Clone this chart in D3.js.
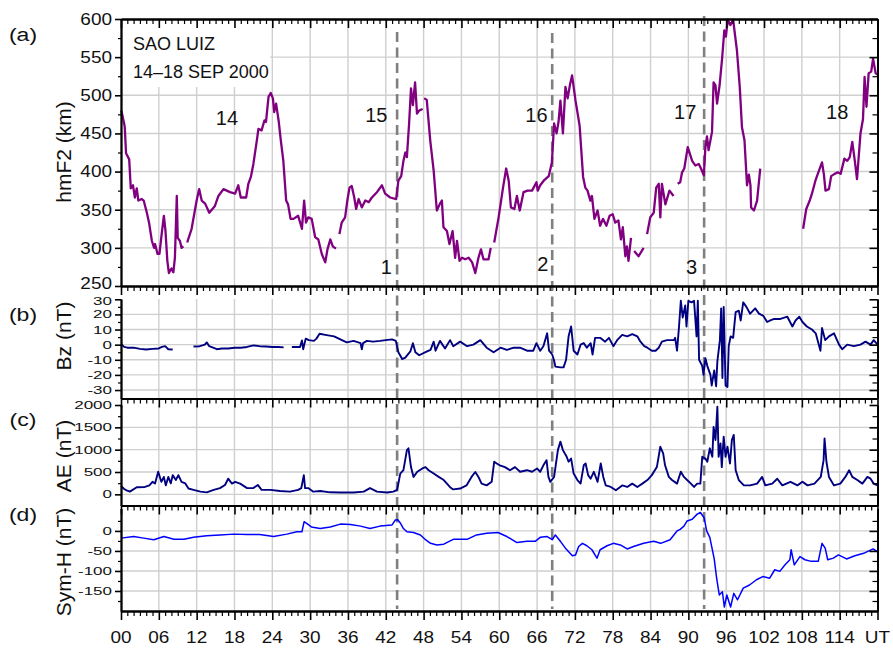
<!DOCTYPE html>
<html>
<head>
<meta charset="utf-8">
<title>Sao Luiz hmF2, Bz, AE, Sym-H</title>
<script src="https://cdn.jsdelivr.net/npm/d3@7"></script>
<style>
  body { margin: 0; background: #fff; }
  svg { font-family: "Liberation Sans", Arial, sans-serif; }
</style>
</head>
<body>
<div id="chart"></div>
<script>
// ---- data (hours since 00 UT 14 Sep 2000, value) ; null = data gap
var hmf2 = [
  [0.0,480],[0.1,478],[0.5,463],[0.6,458],[0.8,424],[1.3,416],[1.55,378],[1.9,382],[2.2,366],[2.5,378],[2.75,362],[3.3,364],[3.6,362],[4.1,346],[4.45,333],[4.9,309],[5.25,300],[5.4,305],[5.8,292],[6.1,292],[6.45,318],[6.8,342],[7.05,323],[7.35,283],[7.6,267],[8.0,273],[8.3,268],[8.55,287],[8.85,368],[9.0,313],[9.35,309],[9.6,300],[9.9,302],
  null,
  [10.5,307],[11.2,325],[12.0,362],[12.4,377],[12.8,362],[13.35,358],[14.0,346],[14.9,355],[15.45,368],[16.25,377],[17.3,373],[18.1,371],[18.6,382],[19.0,366],[19.85,366],[20.2,384],[20.6,393],[21.0,410],[21.55,441],[21.8,456],[22.3,454],[22.75,467],[23.0,465],[23.4,498],[23.75,503],[24.1,496],[24.3,478],[24.6,489],[25.0,467],[25.35,441],[25.75,414],[26.2,362],[26.5,357],[26.9,338],[27.35,338],[28.1,342],[28.7,325],[29.05,362],[29.35,333],[29.7,340],[30.25,338],[30.8,314],[31.3,311],[31.85,292],[32.4,281],[32.75,298],[33.2,311],[33.6,302],[34.1,299],
  null,
  [34.65,318],[35.0,333],[35.55,340],[35.9,362],[36.25,379],[36.6,381],[37.0,366],[37.3,351],[37.7,364],[38.2,353],[38.75,362],[39.3,360],[39.8,366],[40.6,373],[41.4,382],[41.9,371],[42.7,366],[43.65,364],[44.0,388],[44.45,394],[44.8,414],[45.1,425],[45.35,419],[45.7,463],[46.0,509],[46.3,487],[46.65,517],[46.95,476],[47.3,480],[47.85,482],
  null,
  [48.1,496],[48.5,494],[49.05,441],[49.6,401],[50.1,349],[50.6,358],[50.9,362],[51.15,327],[51.7,322],[52.1,305],[52.6,322],[53.0,287],[53.3,309],[53.7,283],[54.1,287],[54.6,285],[55.15,287],[55.7,281],[56.2,267],[56.7,287],[57.1,298],[57.5,285],[58.3,285],[58.65,300],
  null,
  [59.2,307],[59.9,340],[60.6,379],[61.1,404],[61.5,388],[61.85,353],[62.4,351],[62.8,368],[63.25,349],[63.85,373],[64.5,375],[65.2,375],[65.9,386],[66.1,375],[66.5,382],[67.05,388],[67.85,394],[68.35,412],[68.7,463],[69.1,450],[69.4,465],[69.7,493],[70.1,450],[70.5,511],[70.85,496],[71.2,513],[71.55,526],[72.1,493],[72.75,460],[73.3,393],[73.65,379],[74.0,375],[74.45,362],[74.7,368],[75.1,338],[75.6,349],[76.0,329],[76.45,338],[77.0,329],[77.5,342],[78.0,344],[78.4,333],[78.9,336],[79.3,311],[79.6,327],[80.0,289],[80.25,302],[80.5,283],[80.9,313],
  null,
  [81.4,296],[82.1,289],[82.9,300],
  null,
  [83.45,318],[83.95,340],[84.5,346],[84.9,379],[85.3,384],[85.55,340],[85.8,384],[86.35,357],[87.0,375],[87.65,368],
  null,
  [88.3,384],[88.7,386],[89.0,399],[89.35,404],[89.9,432],[90.6,414],[91.1,408],[91.65,410],[92.0,404],[92.45,395],[92.7,432],[92.95,446],[93.2,428],[93.75,452],[94.0,517],[94.3,513],[94.55,489],[94.95,513],[95.35,548],[95.7,585],[95.95,577],[96.25,599],[96.65,592],[97.1,599],[97.7,559],[98.15,511],[98.5,458],[98.9,441],[99.3,382],[99.6,396],[99.85,382],[99.95,353],[100.4,349],[100.9,362],[101.4,404],
  null,
  [108.2,325],[108.7,351],[109.25,362],[109.6,371],[110.15,388],[110.7,401],[111.2,412],[111.5,396],[111.75,375],[112.3,377],[112.65,394],[113.2,397],[113.7,399],[114.15,397],[114.75,417],[115.2,414],[115.6,419],[116.0,439],[116.4,414],[116.75,390],[117.3,450],[117.7,469],[117.95,524],[118.25,485],[118.6,529],[119.0,531],[119.3,548],[119.7,529],[120,527]
];

var bz = [
  [0,0.5],[0.5,-1.5],[1,-2],[2,-2],[3,-2.8],[4,-3.2],[5,-2.8],[6,-2.5],[6.5,-1.5],[7,-1],[7.5,-3],[8.2,-3.2],
  null,
  [11.5,-1.2],[12.5,-1],[13.3,0],[13.6,1.5],[14,-1],[15.2,-3],[16,-2.5],[17,-2.5],[18,-2],[19,-2],[20,-1.5],[21,-0.5],[22,-1],[23,-1.2],[24,-1.5],[25,-1.5],[25.8,-1.8],
  null,
  [27.1,-1.5],[28,-1.5],[28.4,-1.5],[28.7,2.8],[28.9,-3],[29.3,4],[29.8,3],[30.6,2.5],[31,4],[31.5,7.2],[32.4,6.5],[33.1,6],[33.8,5.5],[34.8,3.5],[35.8,1.5],[36.9,2.5],[38,1],[38.2,-3],[38.4,1],[39,2.5],[40,2],[41.1,2.5],[42,3],[43,3.5],[43.6,2.5],[44.0,-5],[44.6,-9.5],[45.1,-8.5],[45.9,-4.5],[46.3,1],[46.7,-5],[47.3,-7],[48.3,-5],[49.1,-3.5],[49.6,2],[49.9,-4],[50.6,2.5],[51.4,-2.5],[52.2,3],[52.7,-1],[53.8,2],[54.9,-1],[55.9,0],[57.0,3],[58.0,-2],[59.1,-5],[60.2,-2],[61.2,-3.5],[62.3,-2],[63.3,-2],[64.4,-4],[65.4,-4],[65.9,1],[66.5,-4],[67.0,-1],[67.6,7.5],[67.9,-4],[68.4,-6.5],[68.7,-10.5],[68.9,-14.5],[69.7,-15],[70.2,-15],[70.6,-10],[71.0,5.5],[71.4,12],[71.8,-4],[72.4,-6.5],[72.9,0],[73.4,1],[73.9,-2],[74.5,1],[74.8,-6.5],[75.2,4.5],[76.0,4.5],[76.8,2],[77.4,4.5],[78.1,-1],[78.7,3],[79.5,6.5],[80.3,5.5],[81.1,7],[81.9,5.5],[82.4,2],[83.0,-1],[83.5,-2],[84.2,-4],[84.8,-4],[85.3,-2],[85.8,2],[86.6,3],[87.7,3],[87.9,4.5],[88.2,-4],[88.5,11],[88.8,29],[89.1,18],[89.5,26],[89.7,12],[90.0,29],[90.5,28],[90.9,29],[91.3,5.5],[91.5,29],[91.7,-10],[92.2,-14],[92.4,-20],[92.7,-9],[93.0,-14],[93.5,-20],[93.7,-27],[94.1,-17],[94.4,-27.5],[94.6,-11],[95.0,3],[95.2,24],[95.4,-22],[95.6,25],[95.9,-27],[96.2,-28],[96.4,-1],[96.7,5.5],[97.1,4.5],[97.5,21.5],[98.0,22.5],[98.3,16],[98.7,28],[99.2,25],[99.8,20.5],[100.6,24],[101.2,20.5],[101.9,19],[102.5,15],[103.0,16],[103.6,17],[104.6,17],[105.7,18.5],[106.5,12],[107.0,16],[107.6,18.5],[108.1,15],[108.8,12],[109.6,10],[110.2,7.5],[110.95,-4],[111.2,11],[111.7,3],[112.3,5.5],[113.1,7.5],[113.9,0],[114.4,-3],[115.2,0],[116.25,-1],[117.3,0],[118.1,2],[118.9,0],[119.4,3],[120,0]
];

var ae = [
  [0,190],[0.5,120],[0.9,90],[1.4,60],[2.5,160],[3.8,165],[4.5,200],[5,280],[5.4,245],[5.9,505],[6.4,280],[6.8,390],[7.1,200],[7.5,390],[7.9,245],[8.2,430],[8.7,320],[9.1,430],[9.6,280],[10.2,245],[10.7,130],[11.5,100],[12.6,60],[13.6,45],[14.7,100],[15.7,140],[16.5,210],[17.0,350],[17.6,240],[18.1,280],[18.9,240],[20.0,140],[21.0,140],[21.7,210],[22.3,100],[23.7,100],[25.2,75],[26.8,60],[28.1,100],[28.6,140],[29.0,430],[29.2,140],[29.7,140],[30.5,60],[31.6,75],[33.2,45],[34.8,40],[36.9,40],[38.5,60],[39.5,140],[40.6,60],[42.2,40],[43.2,60],[43.8,100],[44.3,465],[44.8,540],[45.35,990],[45.6,1030],[46.0,610],[46.4,390],[47.0,505],[47.8,580],[48.3,610],[48.8,540],[49.6,465],[50.4,390],[51.2,320],[51.7,240],[52.2,160],[52.7,110],[53.8,130],[54.8,200],[55.6,390],[56.2,500],[56.7,390],[57.2,240],[58.0,200],[58.8,280],[59.2,730],[59.6,690],[60.1,650],[60.9,610],[61.7,540],[62.5,610],[63.3,505],[64.4,540],[65.2,505],[66.0,580],[66.5,505],[67.0,650],[67.5,765],[67.8,390],[68.1,280],[68.7,390],[69.3,990],[69.7,1180],[70.1,990],[70.7,840],[71.0,730],[71.4,800],[71.8,465],[72.4,320],[72.9,240],[73.4,650],[73.7,690],[74.1,430],[74.5,350],[75.0,505],[75.6,280],[76.1,690],[76.5,390],[76.9,200],[77.7,165],[78.5,90],[79.5,200],[80.3,165],[81.1,240],[81.9,165],[82.7,240],[83.5,320],[84.2,430],[85.0,610],[85.55,1065],[86.0,915],[86.3,650],[86.9,390],[87.4,320],[88.2,240],[88.8,505],[89.3,390],[89.8,320],[90.4,240],[90.9,165],[91.4,240],[91.9,240],[92.2,840],[92.7,800],[93.0,730],[93.4,1030],[93.8,840],[94.0,1510],[94.3,1215],[94.6,1960],[94.8,840],[95.1,1140],[95.3,610],[95.6,1290],[95.9,840],[96.2,1065],[96.6,690],[96.9,1215],[97.2,1330],[97.5,540],[98.0,320],[98.8,200],[99.8,200],[100.9,240],[101.7,390],[102.2,200],[103.3,240],[104.1,350],[104.9,200],[106.2,280],[107.3,200],[108.1,280],[108.9,200],[110.0,240],[111.0,390],[111.45,765],[111.6,1250],[111.9,730],[112.3,390],[113.1,200],[114.1,240],[114.9,390],[115.5,540],[116.0,390],[116.8,320],[117.6,240],[118.4,390],[118.9,350],[119.4,240],[120,200]
];

var symh = [
  [0,-18],[2,-14],[3.6,-18],[5.2,-22],[6.8,-14],[8.4,-21],[10,-21],[11.5,-16],[13.6,-12],[15.7,-10],[17.9,-8],[20,-9],[22,-9],[24.2,-14],[26.3,-8],[27.9,-2],[28.7,-2],[29.05,23],[29.5,18],[30.2,10],[31.6,6],[33.2,10],[34.8,17],[36.4,16],[38,12],[39.5,6],[41.1,12],[43,15],[43.5,27],[43.9,28],[44.3,20],[44.8,6],[45.35,-2],[46.4,-4],[47.5,-10],[48.3,-22],[49.1,-31],[50.1,-35],[51.2,-33],[52.7,-21],[54.9,-21],[56.4,-10],[58,-6],[59.8,-4],[61.2,-14],[62.8,-29],[64.4,-26],[65.7,-26],[66.5,-16],[67.6,-14],[68.4,-22],[68.9,-10],[69.7,-26],[70.5,-43],[71.6,-62],[72.1,-60],[72.6,-39],[73.2,-31],[73.9,-37],[74.7,-47],[75.5,-68],[76.0,-47],[77.1,-37],[78.1,-31],[79.2,-35],[80.3,-45],[81.3,-39],[82.9,-31],[84.5,-26],[85.6,-31],[87.1,-22],[88.2,0],[88.7,4],[89.3,12],[89.8,25],[90.6,29],[91.4,42],[91.9,46],[92.5,33],[92.9,0],[93.4,-16],[94.1,-70],[94.5,-120],[94.9,-160],[95.4,-152],[95.7,-190],[96.1,-160],[96.7,-190],[97.2,-156],[97.8,-172],[98.7,-143],[99.7,-135],[100.8,-122],[101.8,-114],[102.9,-118],[103.7,-97],[104.5,-101],[105.3,-85],[106.1,-72],[106.3,-47],[106.8,-85],[107.7,-64],[108.5,-72],[109.5,-76],[110.6,-76],[111.2,-31],[111.7,-43],[112.1,-72],[113.0,-68],[113.8,-60],[115.1,-70],[116.4,-62],[117.8,-56],[119.3,-45],[120,-52]
];

// event markers (UT hours), day labels, ticks
var eventHours = [43.8, 68.4, 92.5];
var eventNames = ["1", "2", "3"];
var eventLabelPos = [[42.1, 275], [66.9, 279], [90.5, 275]];
var dayNames = ["14", "15", "16", "17", "18"];
var dayLabelPos = [[16.8, 471], [40.5, 475], [65.9, 474], [89.5, 478], [113.6, 478]];
var xMajor = d3.range(0, 121, 6);
var xMinor = d3.range(0, 121).filter(function(h) { return h % 6; });
var xTickLabels = ["00","06","12","18","24","30","36","42","48","54","60","66","72","78","84","90","96","102","108","114","UT"];

var W = 893, H = 652;
var L = 121, R = 877.5;

var svg = d3.select("#chart").append("svg")
  .attr("width", W).attr("height", H);

var x = d3.scaleLinear().domain([0, 120]).range([L, R]);

var panels = [
  { letter: "(a)", title: "hmF2 (km)", top: 19, bottom: 286, domain: [250, 600],
    major: d3.range(250, 601, 50), minor: d3.range(275, 600, 50), grid: d3.range(300, 551, 50),
    fs: 19, sy: 0.86, titleY: 152, letterY: 35 },
  { letter: "(b)", title: "Bz (nT)", top: 299, bottom: 398.5, domain: [-35.6, 30.2],
    major: [-30,-20,-10,0,10,20,30], minor: [-25,-15,-5,5,15,25], grid: [-30,-20,-10,0,10,20],
    fs: 17, sy: 0.66, titleY: 336, letterY: 315 },
  { letter: "(c)", title: "AE (nT)", top: 405, bottom: 505.5, domain: [-250, 2000],
    major: [0,500,1000,1500,2000], minor: [250,750,1250,1750], grid: [0,500,1000,1500],
    fs: 17, sy: 0.66, titleY: 456, letterY: 420 },
  { letter: "(d)", title: "Sym-H (nT)", top: 508.5, bottom: 611, domain: [-200, 56],
    major: [-150,-100,-50,0], minor: [-175,-125,-75,-25,25], grid: [-150,-100,-50,0],
    fs: 17, sy: 0.66, titleY: 562, letterY: 515 }
];
panels.forEach(function(p) {
  p.y = d3.scaleLinear().domain(p.domain).range([p.bottom, p.top]);
});

function squashText(g, px, py, txt, size, sy, anchor) {
  return g.append("text")
    .attr("transform", "translate(" + px + "," + py + ") scale(1," + sy + ")")
    .attr("text-anchor", anchor)
    .attr("dy", "0.36em")
    .style("font-size", size + "px")
    .attr("fill", "#111")
    .text(txt);
}

// grid
var grid = svg.append("g").attr("stroke", "#cfcfcf").attr("stroke-width", 1.4);
panels.forEach(function(p) {
  xMajor.slice(1, -1).forEach(function(h) {
    grid.append("line").attr("x1", x(h)).attr("x2", x(h)).attr("y1", p.top).attr("y2", p.bottom);
  });
  p.grid.forEach(function(v) {
    grid.append("line").attr("x1", L).attr("x2", R).attr("y1", p.y(v)).attr("y2", p.y(v));
  });
});

// white box behind station label
svg.append("rect").attr("x", L + 1).attr("y", 20).attr("width", 148).attr("height", 67).attr("fill", "#fff");

// dashed event lines
var dashTop = [32, 33, 16];
eventHours.forEach(function(h, i) {
  svg.append("line")
    .attr("x1", x(h)).attr("x2", x(h))
    .attr("y1", dashTop[i]).attr("y2", 609)
    .attr("stroke", "#808080").attr("stroke-width", 2.6)
    .attr("stroke-dasharray", "10,5.5");
});

// series
function drawSeries(data, p, color, width) {
  var line = d3.line()
    .defined(function(d) { return d != null; })
    .x(function(d) { return x(d[0]); })
    .y(function(d) { return p.y(d[1]); });
  svg.append("path").datum(data)
    .attr("fill", "none").attr("stroke", color)
    .attr("stroke-width", width).attr("stroke-linejoin", "round")
    .attr("d", line);
}
drawSeries(hmf2, panels[0], "#800080", 2.3);
drawSeries(bz, panels[1], "#000080", 1.9);
drawSeries(ae, panels[2], "#000080", 1.9);
drawSeries(symh, panels[3], "#0000ff", 1.5);

// axes
function styleAxis(g, w) {
  g.select(".domain").attr("stroke", "#000").attr("stroke-width", 1.8);
  g.selectAll(".tick line").attr("stroke", "#000").attr("stroke-width", w);
}
function xAxisAt(yPos) {
  var g1 = svg.append("g").attr("transform", "translate(0," + yPos + ")")
    .call(d3.axisBottom(x).tickValues(xMinor).tickSize(5).tickSizeOuter(0).tickFormat(""));
  styleAxis(g1, 1.2);
  var g2 = svg.append("g").attr("transform", "translate(0," + yPos + ")")
    .call(d3.axisBottom(x).tickValues(xMajor).tickSize(9).tickSizeOuter(0).tickFormat(""));
  styleAxis(g2, 1.6);
}
xAxisAt(panels[0].top);
panels.forEach(function(p) { xAxisAt(p.bottom); });

panels.forEach(function(p, pi) {
  [[L, 6, 3], [R, 8, 5]].forEach(function(s) {
    var g1 = svg.append("g").attr("transform", "translate(" + s[0] + ",0)")
      .call(d3.axisLeft(p.y).tickValues(p.major).tickSize(s[1]).tickSizeOuter(0).tickFormat(""));
    styleAxis(g1, 1.6);
    var g2 = svg.append("g").attr("transform", "translate(" + s[0] + ",0)")
      .call(d3.axisLeft(p.y).tickValues(p.minor).tickSize(s[2]).tickSizeOuter(0).tickFormat(""));
    styleAxis(g2, 1.2);
  });
  var labels = svg.append("g");
  p.major.forEach(function(v, i) {
    // keep the 250 / 30 labels where panels (a) and (b) meet apart
    var nudge = 0;
    if (pi === 0 && i === 0) nudge = -3;
    if (pi === 1 && i === p.major.length - 1) nudge = 2;
    squashText(labels, 112, p.y(v) + nudge, v, p.fs, p.sy, "end");
  });
  svg.append("text")
    .attr("transform", "translate(64," + p.titleY + ") rotate(-90)")
    .attr("text-anchor", "middle").attr("dy", "0.35em")
    .style("font-size", "21px").attr("fill", "#111")
    .text(p.title);
  squashText(svg, 23, p.letterY, p.letter, 23, 0.78, "middle");
});

// x tick labels
xMajor.forEach(function(h, i) {
  squashText(svg, x(h), 637, xTickLabels[i], 19, 0.9, "middle");
});

// annotations in panel (a)
svg.append("text").attr("x", 133).attr("y", 44).attr("dy", "0.36em")
  .style("font-size", "18px").attr("fill", "#111").text("SAO LUIZ");
svg.append("text").attr("x", 133).attr("y", 72).attr("dy", "0.36em")
  .style("font-size", "18px").attr("fill", "#111").text("14\u201318 SEP 2000");

dayNames.forEach(function(t, i) {
  svg.append("text")
    .attr("x", x(dayLabelPos[i][0])).attr("y", panels[0].y(dayLabelPos[i][1]))
    .attr("dy", "0.36em").attr("text-anchor", "middle")
    .style("font-size", "20px").attr("fill", "#111").text(t);
});
eventNames.forEach(function(t, i) {
  svg.append("text")
    .attr("x", x(eventLabelPos[i][0])).attr("y", panels[0].y(eventLabelPos[i][1]))
    .attr("dy", "0.36em").attr("text-anchor", "middle")
    .style("font-size", "20px").attr("fill", "#111").text(t);
});
</script>
</body>
</html>
